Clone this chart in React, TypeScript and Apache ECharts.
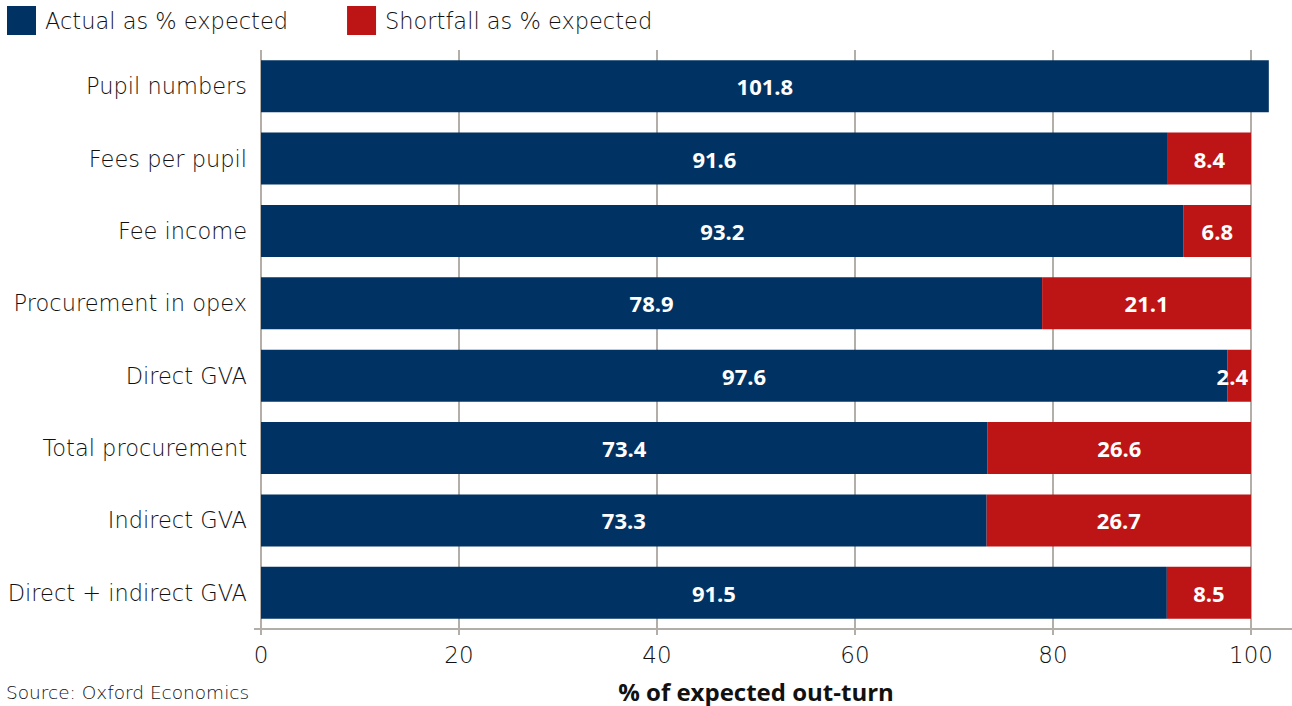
import React, { useEffect, useRef } from "react";
import * as echarts from "echarts";

const categories = [
  "Pupil numbers",
  "Fees per pupil",
  "Fee income",
  "Procurement in opex",
  "Direct GVA",
  "Total procurement",
  "Indirect GVA",
  "Direct + indirect GVA",
];
const actual = [101.8, 91.6, 93.2, 78.9, 97.6, 73.4, 73.3, 91.5];
const shortfall: (number | null)[] = [null, 8.4, 6.8, 21.1, 2.4, 26.6, 26.7, 8.5];
const xTicks = { min: 0, max: 100, interval: 20 };
const seriesNames = ["Actual as % expected", "Shortfall as % expected"];

const NAVY = "#003363";
const RED = "#BD1515";
const GRID = "#b3aea8";
const TEXT = "#111111";
const FONT = "'DejaVu Sans', sans-serif";
const BOLD = "'Open Sans', sans-serif";

export default function App() {
  const ref = useRef<HTMLDivElement>(null);
  useEffect(() => {
    if (!ref.current) return;
    const chart = echarts.init(ref.current, null, { renderer: "svg" });
    const valueLabel = {
      show: true,
      position: "inside",
      color: "#fff",
      fontFamily: BOLD,
      fontWeight: "bold",
      fontSize: 22,
      formatter: (p: any) => (p.value == null ? "" : Number(p.value).toFixed(1)),
    };
    const toItems = (arr: (number | null)[]) =>
      arr.map((v) =>
        v != null && v < 5
          ? { value: v, label: { position: "insideRight", distance: 3 } }
          : { value: v }
      );
    chart.setOption({
      animation: false,
      backgroundColor: "#fff",
      textStyle: { fontFamily: FONT },
      legend: {
        left: 7,
        top: 6,
        padding: 0,
        itemWidth: 29,
        itemHeight: 29,
        itemGap: 59,
        icon: "rect",
        data: seriesNames,
        textStyle: { fontSize: 22.5, color: TEXT, fontFamily: FONT, fontWeight: 300, padding: [0, 0, 0, 4] },
      },
      grid: { left: 261, right: 41, top: 50, bottom: 77, containLabel: false, outerBoundsMode: "none" },
      xAxis: {
        type: "value",
        min: xTicks.min,
        max: xTicks.max,
        interval: xTicks.interval,
        name: "% of expected out-turn",
        nameLocation: "middle",
        nameGap: 50,
        nameTextStyle: { fontFamily: BOLD, fontWeight: "bold", fontSize: 24, color: "#111" },
        axisLine: { show: false },
        axisTick: { show: true, length: 6, lineStyle: { color: GRID, width: 2 } },
        axisLabel: { fontSize: 23, color: TEXT, margin: 14, fontFamily: FONT, fontWeight: 300 },
        splitLine: { show: true, lineStyle: { color: GRID, width: 2 } },
      },
      yAxis: {
        type: "category",
        data: categories,
        inverse: true,
        axisLine: { show: false },
        axisTick: { show: false },
        axisLabel: { fontSize: 22.5, color: TEXT, margin: 14, fontFamily: FONT, fontWeight: 300 },
      },
      series: [
        {
          name: seriesNames[0],
          type: "bar",
          stack: "total",
          data: toItems(actual),
          barWidth: 52,
          clip: false,
          itemStyle: { color: NAVY },
          label: valueLabel,
        },
        {
          name: seriesNames[1],
          type: "bar",
          stack: "total",
          data: toItems(shortfall),
          barWidth: 52,
          clip: false,
          itemStyle: { color: RED },
          label: valueLabel,
        },
      ],
      graphic: [
        {
          type: "line",
          shape: { x1: 254, y1: 629, x2: 1292, y2: 629 },
          style: { stroke: GRID, lineWidth: 2 },
          z: 10,
        },
        {
          type: "text",
          left: 6,
          top: 683,
          style: { text: "Source: Oxford Economics", fontSize: 18.5, fill: TEXT, fontFamily: FONT, fontWeight: 300 },
        },
      ],
    });
    return () => chart.dispose();
  }, []);
  return <div ref={ref} style={{ position: "fixed", left: 0, top: 0, width: 1292, height: 706 }} />;
}
